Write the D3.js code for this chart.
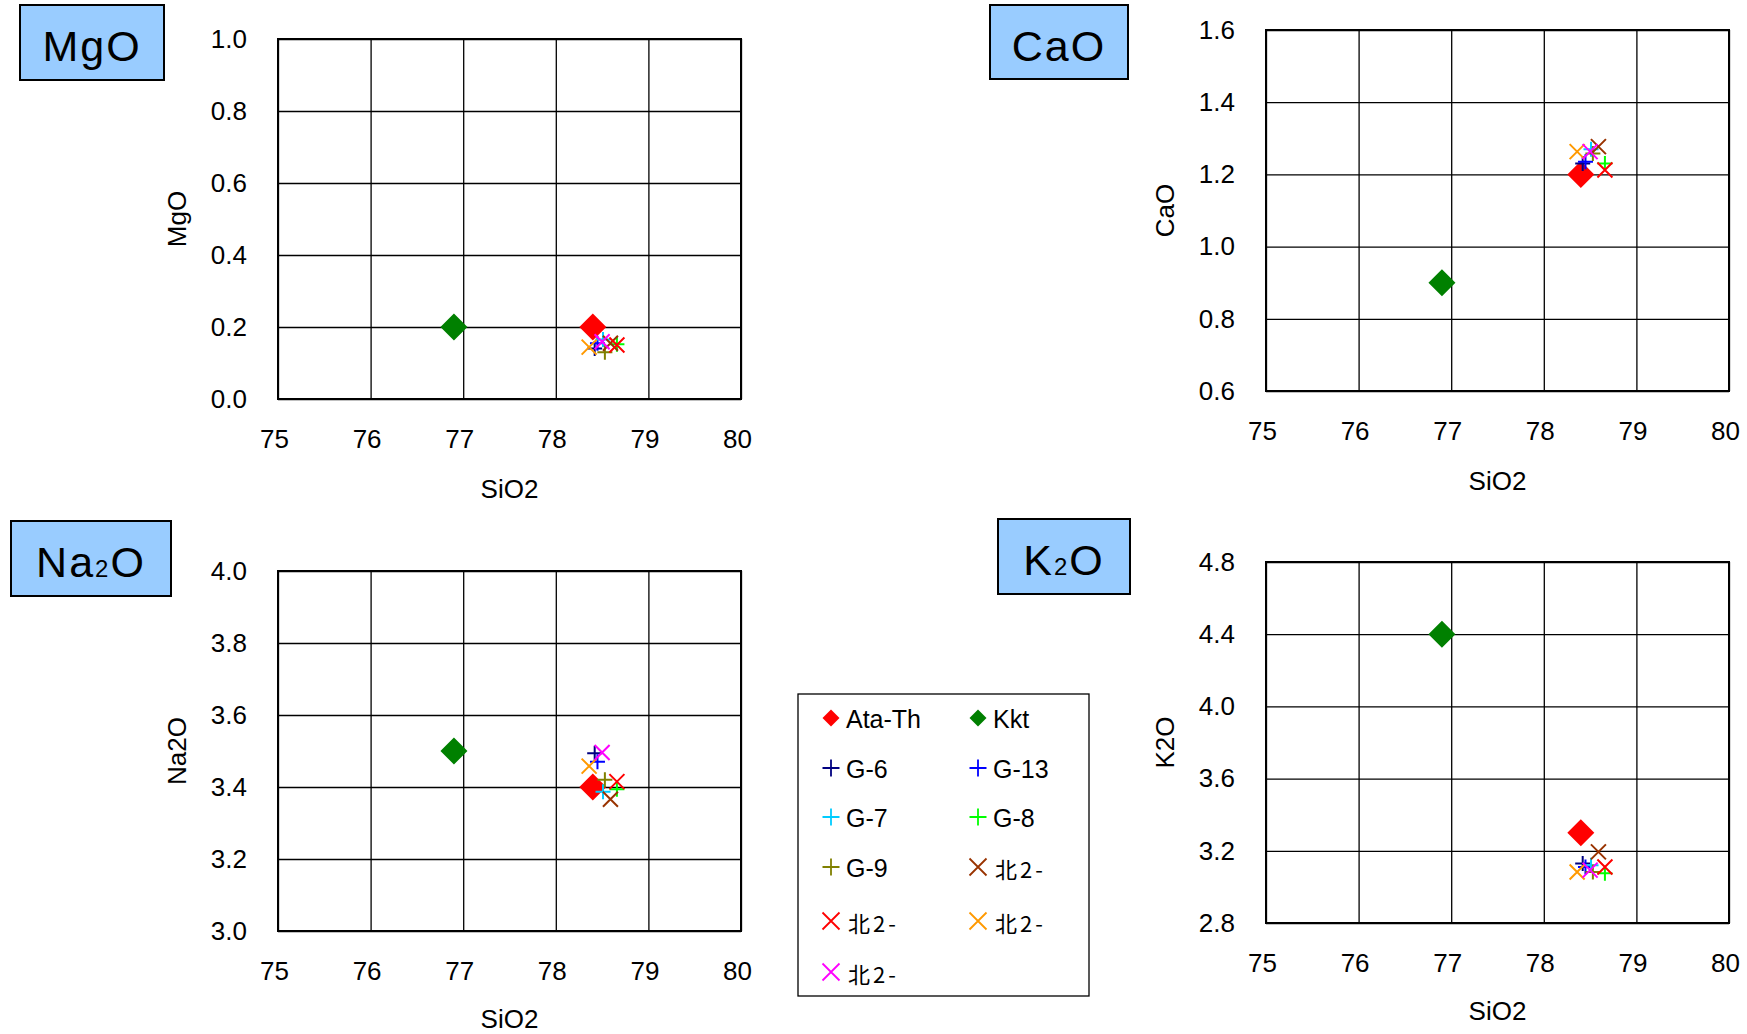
<!DOCTYPE html>
<html>
<head>
<meta charset="utf-8">
<script src="https://cdn.jsdelivr.net/npm/d3@7"></script>
<style>
  body { margin: 0; background: #fff; }
  svg { display: block; font-family: "Liberation Sans", Arial, sans-serif; }
</style>
</head>
<body>
<svg width="1747" height="1034"></svg>
<script>
// series (same order as the legend)
const seriesNames = ['Ata-Th', 'Kkt', 'G-6', 'G-13', 'G-7', 'G-8', 'G-9', '北2-', '北2-', '北2-', '北2-'];
const seriesColors = ['#ff0000', '#008000', '#000080', '#0000ff', '#00ccff', '#00ff00', '#808000', '#993300', '#ff0000', '#ff9900', '#ff00ff'];
const seriesShapes = ['diamond', 'diamond', 'plus', 'plus', 'plus', 'plus', 'plus', 'cross', 'cross', 'cross', 'cross'];

// x values for every panel
const siO2 = [78.4, 76.9, 78.42, 78.45, 78.51, 78.66, 78.53, 78.59, 78.66, 78.36, 78.5];

// y values per panel
const mgO  = [0.2, 0.2, 0.14, 0.155, 0.165, 0.152, 0.13, 0.155, 0.15, 0.144, 0.159];
const caO  = [1.2, 0.9, 1.23, 1.235, 1.27, 1.23, 1.258, 1.277, 1.212, 1.263, 1.263];
const na2O = [3.4, 3.5, 3.494, 3.47, 3.387, 3.394, 3.42, 3.366, 3.415, 3.458, 3.496];
const k2O  = [3.3, 4.4, 3.13, 3.11, 3.12, 3.075, 3.083, 3.194, 3.11, 3.083, 3.093];

// tick labels
const xTicks = [75, 76, 77, 78, 79, 80];
const mgOTicks = [0, 0.2, 0.4, 0.6, 0.8, 1.0];
const caOTicks = [0.6, 0.8, 1.0, 1.2, 1.4, 1.6];
const na2OTicks = [3.0, 3.2, 3.4, 3.6, 3.8, 4.0];
const k2OTicks = [2.8, 3.2, 3.6, 4.0, 4.4, 4.8];

const svg = d3.select('svg');

const panels = [
    { yLabel: 'MgO', values: mgO, ticks: mgOTicks, left: 278, top: 39, w: 463, h: 360, titleGap: 90,
      box: { x: 20, y: 5, w: 144, h: 75, main: 'MgO' } },
    { yLabel: 'CaO', values: caO, ticks: caOTicks, left: 1266, top: 30, w: 463, h: 361, titleGap: 90,
      box: { x: 990, y: 5, w: 138, h: 74, main: 'CaO' } },
    { yLabel: 'Na2O', values: na2O, ticks: na2OTicks, left: 278, top: 571, w: 463, h: 360, titleGap: 88,
      box: { x: 11, y: 521, w: 160, h: 75, pre: 'Na', sub: '2', post: 'O' } },
    { yLabel: 'K2O', values: k2O, ticks: k2OTicks, left: 1266, top: 562, w: 463, h: 361, titleGap: 88,
      box: { x: 998, y: 519, w: 132, h: 75, pre: 'K', sub: '2', post: 'O' } }
];

function drawMarker(g, shape, color, r, lw) {
    if (shape === 'diamond') {
        g.append('path')
            .attr('d', `M0,${-r}L${r},0L0,${r}L${-r},0Z`)
            .attr('fill', color);
    } else if (shape === 'plus') {
        g.append('path')
            .attr('d', `M${-r},0H${r}M0,${-r}V${r}`)
            .attr('stroke', color).attr('stroke-width', lw).attr('fill', 'none');
    } else {
        g.append('path')
            .attr('d', `M${-r},${-r}L${r},${r}M${-r},${r}L${r},${-r}`)
            .attr('stroke', color).attr('stroke-width', lw).attr('fill', 'none');
    }
}

panels.forEach(p => {
    const x = d3.scaleLinear().domain([75, 80]).range([p.left, p.left + p.w]);
    const y = d3.scaleLinear().domain([p.ticks[0], p.ticks[p.ticks.length - 1]]).range([p.top + p.h, p.top]);

    // grid + tick labels
    const gx = svg.append('g')
        .attr('transform', `translate(0,${p.top + p.h})`)
        .call(d3.axisBottom(x).tickValues(xTicks).tickFormat(d3.format('d'))
            .tickSizeInner(-p.h).tickSizeOuter(0).tickPadding(31));
    gx.selectAll('text').attr('dx', -4);
    const gy = svg.append('g')
        .attr('transform', `translate(${p.left},0)`)
        .call(d3.axisLeft(y).tickValues(p.ticks).tickFormat(d3.format('.1f'))
            .tickSizeInner(-p.w).tickSizeOuter(0).tickPadding(31));
    [gx, gy].forEach(g => {
        g.select('.domain').remove();
        g.selectAll('line').attr('stroke', '#000').attr('stroke-width', 1.3);
        g.selectAll('text').attr('fill', '#000').style('font-size', '26px')
            .style('font-family', '"Liberation Sans", Arial, sans-serif');
    });

    svg.append('rect')
        .attr('x', p.left).attr('y', p.top).attr('width', p.w).attr('height', p.h)
        .attr('fill', 'none').attr('stroke', '#000').attr('stroke-width', 2);

    // axis titles
    svg.append('text')
        .attr('x', p.left + p.w / 2).attr('y', p.top + p.h + p.titleGap)
        .attr('text-anchor', 'middle').attr('dominant-baseline', 'central')
        .style('font-size', '26px').text('SiO2');
    svg.append('text')
        .attr('transform', `translate(${p.left - 101},${p.top + p.h / 2}) rotate(-90)`)
        .attr('text-anchor', 'middle').attr('dominant-baseline', 'central')
        .style('font-size', '26px').text(p.yLabel);

    // points
    const pts = svg.append('g');
    seriesNames.forEach((name, i) => {
        const g = pts.append('g')
            .attr('transform', `translate(${x(siO2[i])},${y(p.values[i])})`);
        drawMarker(g, seriesShapes[i], seriesColors[i], seriesShapes[i] === 'diamond' ? 13.5 : 7.5, 2);
    });

    // title box
    const b = p.box;
    svg.append('rect')
        .attr('x', b.x).attr('y', b.y).attr('width', b.w).attr('height', b.h)
        .attr('fill', '#99ccff').attr('stroke', '#000').attr('stroke-width', 2);
    const t = svg.append('text')
        .attr('x', b.x + b.w / 2).attr('y', b.y + 56)
        .attr('text-anchor', 'middle')
        .style('font-size', '43px').style('letter-spacing', '2px');
    if (b.main) {
        t.text(b.main);
    } else {
        t.append('tspan').text(b.pre);
        t.append('tspan').style('font-size', '24px').text(b.sub);
        t.append('tspan').text(b.post);
    }
});

// legend
svg.append('rect')
    .attr('x', 798).attr('y', 694).attr('width', 291).attr('height', 302)
    .attr('fill', '#fff').attr('stroke', '#000').attr('stroke-width', 1.3);

const legendRowY = [718, 768, 817, 867, 921, 972];
const legend = svg.append('g');
seriesNames.forEach((name, i) => {
    const col = i % 2;
    const row = Math.floor(i / 2);
    const mx = col === 0 ? 831 : 978;
    const my = legendRowY[row];
    const g = legend.append('g').attr('transform', `translate(${mx},${my})`);
    drawMarker(g, seriesShapes[i], seriesColors[i], 8.5, 1.8);
    const cjk = /[^\x00-\x7f]/.test(name);
    legend.append('text')
        .attr('x', mx + (cjk ? 17 : 15)).attr('y', my + 1)
        .attr('dominant-baseline', 'central')
        .style('font-size', cjk ? '22px' : '25px')
        .style('font-family', cjk ? '"Noto Sans CJK JP", sans-serif' : null)
        .style('letter-spacing', cjk ? '3px' : null)
        .text(name);
});
</script>
</body>
</html>
